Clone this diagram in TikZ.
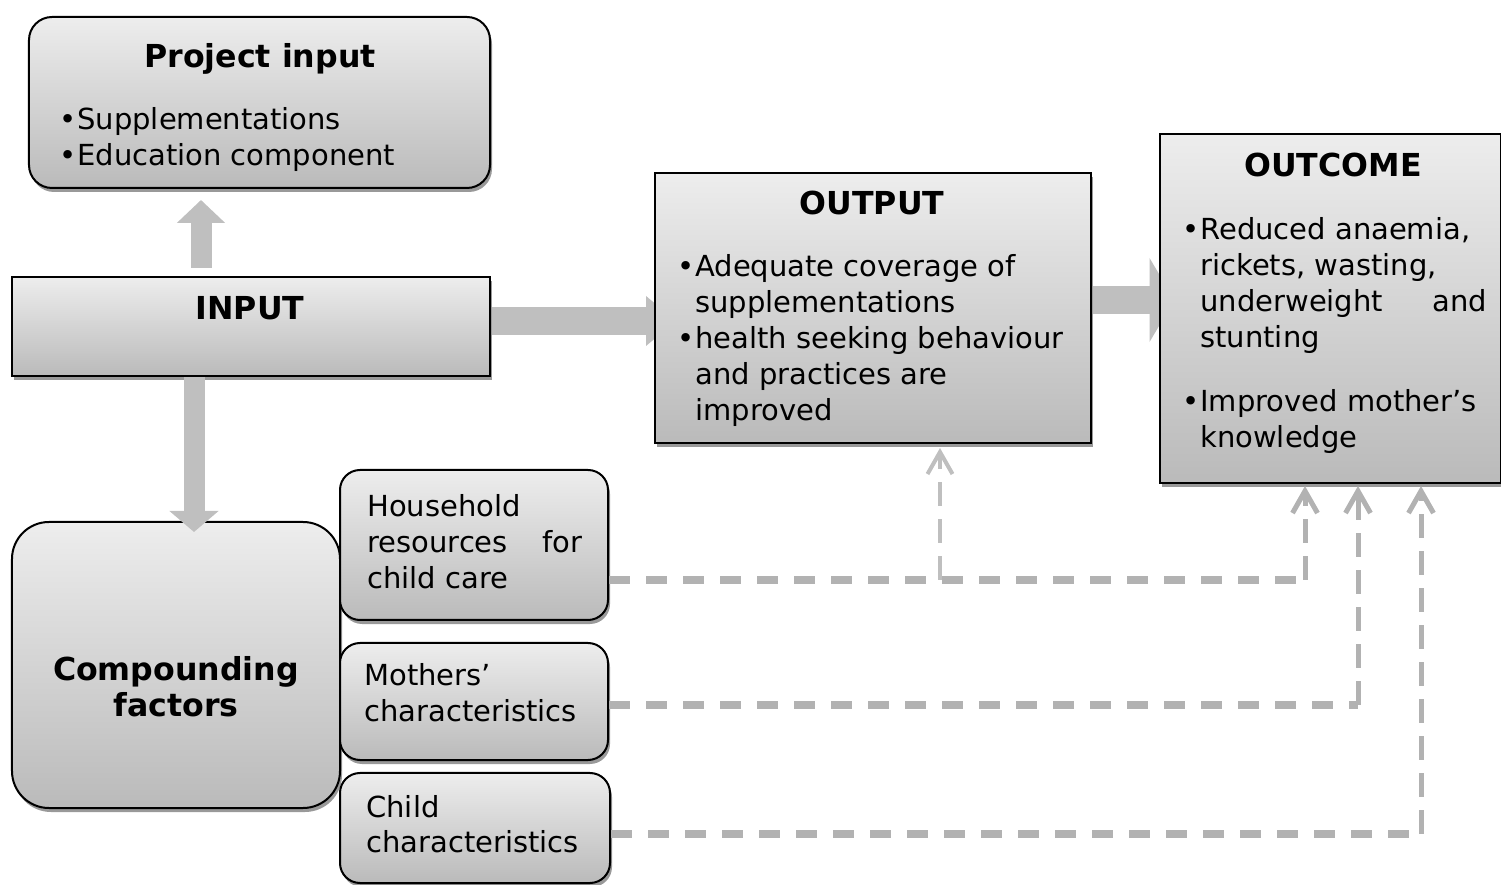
\documentclass[tikz,border=0pt]{standalone}
\usepackage{fontspec}
\setmainfont{DejaVu Sans}
\usetikzlibrary{arrows.meta,positioning,calc,shadows,backgrounds}

\newcommand{\bodyfont}{\fontsize{16.5}{20.4}\selectfont}
\newcommand{\titlefont}{\fontsize{18}{21}\selectfont\bfseries}
\newcommand{\blist}[1]{\begin{tabular}[t]{@{}p{3.6mm}@{}l@{}}#1\end{tabular}}
\newcommand{\plines}[1]{\begin{tabular}[t]{@{}l@{}}#1\end{tabular}}

\begin{document}
\begin{tikzpicture}[
    x=0.2mm, y=-0.2mm,
    font=\bodyfont,
    box/.style={rectangle, draw=black, line width=0.4mm,
      top color=black!7, bottom color=black!27,
      drop shadow={shadow xshift=0.4mm, shadow yshift=-0.8mm,
        fill=black!40, opacity=1}},
    rbox/.style={box, rounded corners=4.6mm},
    ttl/.style={font=\titlefont, anchor=base, inner sep=0pt},
    txt/.style={anchor=base west, inner sep=0pt},
    blk/.style={draw=black!25, line cap=butt},
    hdash/.style={draw=black!30, line width=1.6mm,
      dash pattern=on 4.2mm off 3.2mm},
    vdash/.style={draw=black!30, line width=1mm,
      dash pattern=on 4.8mm off 2.6mm,
      -{Straight Barb[length=4.4mm, width=5mm]}}
  ]
    \useasboundingbox (0,0) rectangle (1501,885);

    \node[rbox, minimum width=92.2mm, minimum height=34.2mm] (proj) at (259.5,102.5) {};
    \node[box, minimum width=95.6mm, minimum height=19.8mm] (input) at (251,326.5) {};
    \node[rbox, rounded corners=7.4mm, minimum width=65.6mm, minimum height=57.2mm] (comp) at (176,665) {};
    \node[rbox, rounded corners=4mm, minimum width=53.6mm, minimum height=30mm] (house) at (474,545) {};
    \node[rbox, rounded corners=4mm, minimum width=53.6mm, minimum height=23.4mm] (moth) at (474,701.5) {};
    \node[rbox, rounded corners=4mm, minimum width=54mm, minimum height=22mm] (child) at (475,828) {};
    \node[box, minimum width=87.2mm, minimum height=54mm] (output) at (873,308) {};
    \node[box, minimum width=68.2mm, minimum height=69.8mm] (outcome) at (1330,308.5) {};

    \node[ttl] (projT) at (260,68) {Project input};
    \node[txt] (projL) at (59,130) {\blist{\textbullet & Supplementations\\
      \textbullet & Education component}};
    \node[ttl] (inputT) at (250,320) {INPUT};
    \node[ttl] (compT) at (176,680) {\begin{tabular}[t]{@{}c@{}}Compounding\\factors\end{tabular}};
    \node[txt] (houseT) at (367,517) {\plines{Household\\
      \makebox[43mm]{resources\hfill for}\\child care}};
    \node[txt] (mothT) at (364,686) {\plines{Mothers’\\characteristics}};
    \node[txt] (childT) at (366,817) {\plines{Child\\characteristics}};
    \node[ttl] (outputT) at (872,215) {OUTPUT};
    \node[txt] (outputL) at (677,277) {\blist{\textbullet & Adequate coverage of\\
      & supplementations\\
      \textbullet & health seeking behaviour\\
      & and practices are\\
      & improved}};
    \node[ttl] (outcomeT) at (1333,177) {OUTCOME};
    \node[txt] (outcomeL) at (1182,240) {\blist{\textbullet & Reduced anaemia,\\
      & rickets, wasting,\\
      & \makebox[57.4mm]{underweight\hfill and}\\
      & stunting\\[5.6mm]
      \textbullet & Improved mother’s\\
      & knowledge}};

    \coordinate (aL) at (0,321);
    \coordinate (aR) at (0,300);
    \coordinate (upx) at (201,0);
    \coordinate (dnx) at (194,0);
    \coordinate (obr) at (940,580);
    \coordinate (hturn) at (1305,580);
    \coordinate (mturn) at (1358,705);
    \coordinate (cturn) at (1421,834);

    \begin{scope}[on background layer]
      \draw[blk, line width=5.6mm, -{Triangle[width=9.6mm, length=6mm]},
        shorten >=-4.4mm] (input.east |- aL) -- (output.west |- aL);
      \draw[blk, line width=5.6mm, -{Triangle[width=16.6mm, length=5mm]},
        shorten >=-3.2mm] (output.east |- aR) -- (outcome.west |- aR);
    \end{scope}

    \draw[blk, line width=4.2mm, -{Triangle[width=9.4mm, length=4.6mm]},
      shorten <=1.6mm, shorten >=2.2mm] (upx |- input.north) -- (upx |- proj.south);
    \draw[blk, line width=4.2mm, -{Triangle[width=9.6mm, length=4.2mm]},
      shorten >=-2.2mm] (dnx |- input.south) -- (dnx |- comp.north);

    \draw[hdash] (house.east |- hturn) -- (hturn);
    \draw[hdash] (moth.east |- mturn) -- (mturn);
    \draw[hdash] (child.east |- cturn) -- (cturn);
    \draw[vdash, draw=black!25, line width=0.8mm, shorten >=0.8mm] (obr) -- (obr |- output.south);
    \draw[vdash, shorten >=0.4mm] (hturn) -- (hturn |- outcome.south);
    \draw[vdash, shorten >=0.4mm] (mturn) -- (mturn |- outcome.south);
    \draw[vdash, shorten >=0.4mm] (cturn) -- (cturn |- outcome.south);
\end{tikzpicture}
\end{document}
